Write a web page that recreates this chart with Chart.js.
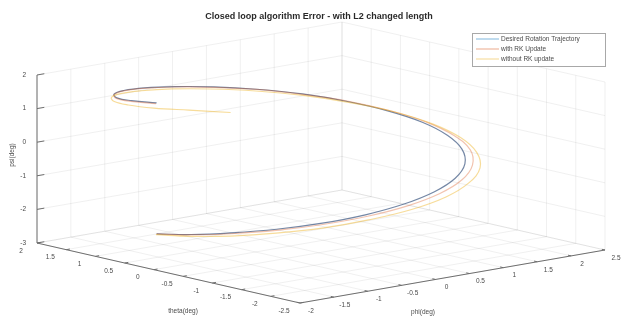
<!DOCTYPE html>
<html>
<head>
<meta charset="utf-8">
<script src="https://cdn.jsdelivr.net/npm/chart.js@4.4.0/dist/chart.umd.min.js"></script>
<style>
  html, body { margin: 0; padding: 0; background: #fff; }
  #wrap { width: 621px; height: 322px; }
</style>
</head>
<body>
<div id="wrap"><canvas id="c"></canvas></div>
<script>
var titleText = "Closed loop algorithm Error - with L2 changed length"
var seriesNames = ["Desired Rotation Trajectory", "with RK Update", "without RK update"]
var seriesColors = ["#0072bd", "#d95319", "#edb120"]
var xLabel = "phi(deg)"
var yLabel = "theta(deg)"
var zLabel = "psi(deg)"

var xTicks = [-2, -1.5, -1, -0.5, 0, 0.5, 1, 1.5, 2, 2.5]
var yTicks = [-2.5, -2, -1.5, -1, -0.5, 0, 0.5, 1, 1.5, 2]
var zTicks = [-3, -2, -1, 0, 1, 2]

// desired trajectory
var desX = [-1.96, -1.89, -1.70, -1.39, -0.98, -0.51, 0.00, 0.51, 0.98, 1.39, 1.70, 1.89, 1.96, 1.89, 1.70, 1.39, 0.98, 0.51, 0.00, -0.51, -0.98, -1.39, -1.70, -1.89, -1.96]
var desY = [0.00, -0.51, -0.98, -1.39, -1.70, -1.89, -1.96, -1.89, -1.70, -1.39, -0.98, -0.51, 0.00, 0.51, 0.98, 1.39, 1.70, 1.89, 1.96, 1.89, 1.70, 1.39, 0.98, 0.51, 0.00]
var desZ = [-1.95, -1.79, -1.62, -1.46, -1.30, -1.14, -0.97, -0.81, -0.65, -0.49, -0.32, -0.16, 0.00, 0.16, 0.32, 0.49, 0.65, 0.81, 0.97, 1.14, 1.30, 1.46, 1.62, 1.79, 1.95]

// with RK update
var rkX = [-1.96, -1.90, -1.71, -1.41, -1.00, -0.52, 0.00, 0.53, 1.02, 1.45, 1.78, 1.97, 2.03, 1.95, 1.74, 1.41, 1.00, 0.51, 0.00, -0.51, -0.99, -1.39, -1.71, -1.90, -1.97]
var rkY = [0.00, -0.51, -0.99, -1.41, -1.73, -1.94, -2.02, -1.96, -1.77, -1.45, -1.03, -0.53, 0.00, 0.52, 1.01, 1.41, 1.72, 1.91, 1.98, 1.90, 1.71, 1.39, 0.99, 0.51, 0.00]
var rkZ = [-1.95, -1.80, -1.64, -1.48, -1.32, -1.16, -1.00, -0.84, -0.68, -0.52, -0.35, -0.19, -0.03, 0.13, 0.30, 0.46, 0.63, 0.79, 0.95, 1.12, 1.28, 1.44, 1.61, 1.77, 1.93]

// without RK update
var noRkX = [-1.97, -1.92, -1.74, -1.44, -1.03, -0.54, 0.00, 0.55, 1.06, 1.51, 1.84, 2.05, 2.11, 2.02, 1.79, 1.45, 1.02, 0.52, 0.00, -0.52, -1.00, -1.41, -1.73, -1.93, -2.00, -1.93, -1.73]
var noRkY = [0.00, -0.52, -1.01, -1.44, -1.78, -2.00, -2.09, -2.04, -1.84, -1.51, -1.07, -0.55, 0.00, 0.54, 1.04, 1.45, 1.76, 1.95, 2.01, 1.93, 1.73, 1.41, 1.00, 0.52, 0.00, -0.52, -1.00]
var noRkZ = [-1.97, -1.83, -1.69, -1.54, -1.39, -1.23, -1.08, -0.92, -0.76, -0.60, -0.43, -0.27, -0.10, 0.07, 0.23, 0.40, 0.56, 0.72, 0.88, 1.04, 1.20, 1.36, 1.52, 1.67, 1.81, 1.93, 1.98]

// screen position of the 3d box: front corner, right corner, left corner, height
var boxFront = [300, 303]
var boxRight = [605, 250]
var boxLeft = [37, 243]
var boxHeight = 168
var W = 621, H = 322
var fontFam = "'Liberation Sans', Arial, Helvetica, sans-serif"

var xMin = xTicks[0], xMax = xTicks[xTicks.length - 1]
var yMin = yTicks[0], yMax = yTicks[yTicks.length - 1]
var zMin = zTicks[0], zMax = zTicks[zTicks.length - 1]

// x runs front->right, y runs front->left (y max at left corner)
function proj(x, y, z) {
    var u = (x - xMin) / (xMax - xMin)
    var v = (yMax - y) / (yMax - yMin)
    var w = (z - zMin) / (zMax - zMin)
    var px = boxLeft[0] + (boxFront[0] - boxLeft[0]) * v + (boxRight[0] - boxFront[0]) * u
    var py = boxLeft[1] + (boxFront[1] - boxLeft[1]) * v + (boxRight[1] - boxFront[1]) * u - boxHeight * w
    return { x: px, y: py }
}

function toPoints(xs, ys, zs) {
    return xs.map((x, i) => proj(x, ys[i], zs[i]))
}

function pix(chart, p) {
    return [chart.scales.x.getPixelForValue(p.x), chart.scales.y.getPixelForValue(p.y)]
}

function line3(chart, ctx, a, b) {
    var p = pix(chart, proj(a[0], a[1], a[2]))
    var q = pix(chart, proj(b[0], b[1], b[2]))
    ctx.beginPath()
    ctx.moveTo(p[0], p[1])
    ctx.lineTo(q[0], q[1])
    ctx.stroke()
}

var axesPlugin = {
    id: "axes3d",
    beforeDatasetsDraw(chart) {
        var ctx = chart.ctx
        ctx.save()
        // grid on floor and back walls
        ctx.strokeStyle = "rgba(38,38,38,0.12)"
        ctx.lineWidth = 0.6
        xTicks.forEach((x) => {
            line3(chart, ctx, [x, yMin, zMin], [x, yMax, zMin])
            line3(chart, ctx, [x, yMax, zMin], [x, yMax, zMax])
        })
        yTicks.forEach((y) => {
            line3(chart, ctx, [xMin, y, zMin], [xMax, y, zMin])
            line3(chart, ctx, [xMax, y, zMin], [xMax, y, zMax])
        })
        zTicks.forEach((z) => {
            line3(chart, ctx, [xMin, yMax, z], [xMax, yMax, z])
            line3(chart, ctx, [xMax, yMin, z], [xMax, yMax, z])
        })
        // axis lines
        ctx.strokeStyle = "#6e6e6e"
        ctx.lineWidth = 1
        line3(chart, ctx, [xMin, yMax, zMin], [xMin, yMax, zMax])
        line3(chart, ctx, [xMin, yMax, zMin], [xMin, yMin, zMin])
        line3(chart, ctx, [xMin, yMin, zMin], [xMax, yMin, zMin])
        // tick marks
        var tx = (xMax - xMin) * 0.012, ty = (yMax - yMin) * 0.012
        zTicks.forEach((z) => line3(chart, ctx, [xMin, yMax, z], [xMin + tx * 2, yMax, z]))
        yTicks.forEach((y) => line3(chart, ctx, [xMin, y, zMin], [xMin + tx, y, zMin]))
        xTicks.forEach((x) => line3(chart, ctx, [x, yMin, zMin], [x, yMin + ty, zMin]))
        // tick labels
        ctx.fillStyle = "#4a4a4a"
        ctx.font = "6.5px " + fontFam
        ctx.textBaseline = "middle"
        ctx.textAlign = "right"
        zTicks.forEach((z) => {
            var p = pix(chart, proj(xMin, yMax, z))
            ctx.fillText(String(z), p[0] - 11, p[1])
        })
        ctx.textAlign = "center"
        yTicks.forEach((y) => {
            var p = pix(chart, proj(xMin, y, zMin))
            ctx.fillText(String(y), p[0] - 16, p[1] + 8)
        })
        xTicks.forEach((x) => {
            var p = pix(chart, proj(x, yMin, zMin))
            ctx.fillText(String(x), p[0] + 11, p[1] + 8)
        })
        // axis titles
        ctx.fillText(yLabel, 183, 311)
        ctx.fillText(xLabel, 423, 312)
        ctx.save()
        ctx.translate(12, 155)
        ctx.rotate(-Math.PI / 2)
        ctx.fillText(zLabel, 0, 0)
        ctx.restore()
        ctx.restore()
    },
    afterDatasetsDraw(chart) {
        var ctx = chart.ctx
        ctx.save()
        // legend
        var lx = 472, ly = 33, lw = 133, lh = 33
        ctx.fillStyle = "#fff"
        ctx.fillRect(lx, ly, lw, lh)
        ctx.strokeStyle = "#a8a8a8"
        ctx.lineWidth = 1
        ctx.strokeRect(lx + 0.5, ly + 0.5, lw, lh)
        ctx.font = "6.5px " + fontFam
        ctx.textAlign = "left"
        ctx.textBaseline = "middle"
        seriesNames.forEach((name, i) => {
            var yy = ly + 6 + i * 10
            ctx.strokeStyle = seriesColors[i]
            ctx.globalAlpha = 0.5
            ctx.beginPath()
            ctx.moveTo(lx + 4, yy)
            ctx.lineTo(lx + 27, yy)
            ctx.stroke()
            ctx.globalAlpha = 1
            ctx.fillStyle = "#4a4a4a"
            ctx.fillText(name, lx + 29, yy)
        })
        // title
        ctx.fillStyle = "#2a2a2a"
        ctx.font = "bold 9px " + fontFam
        ctx.textAlign = "center"
        ctx.fillText(titleText, 319, 17)
        ctx.restore()
    }
}

var chartSet = {
    datasets: [
        { label: seriesNames[2], data: toPoints(noRkX, noRkY, noRkZ), borderColor: "rgba(237,177,32,0.45)" },
        { label: seriesNames[1], data: toPoints(rkX, rkY, rkZ), borderColor: "rgba(217,83,25,0.35)" },
        { label: seriesNames[0], data: toPoints(desX, desY, desZ), borderColor: "rgba(70,95,135,0.75)" },
    ].map((d) => Object.assign(d, { showLine: true, pointRadius: 0, borderWidth: 1.2, tension: 0.4, fill: false }))
}

new Chart(document.getElementById("c").getContext("2d"), {
    type: "scatter",
    data: chartSet,
    options: {
        responsive: true,
        maintainAspectRatio: false,
        animation: false,
        layout: { padding: 0 },
        scales: {
            x: { type: "linear", min: 0, max: W, display: false },
            y: { type: "linear", min: 0, max: H, reverse: true, display: false },
        },
        plugins: { legend: { display: false }, tooltip: { enabled: false }, title: { display: false } },
    },
    plugins: [axesPlugin],
})
</script>
</body>
</html>
